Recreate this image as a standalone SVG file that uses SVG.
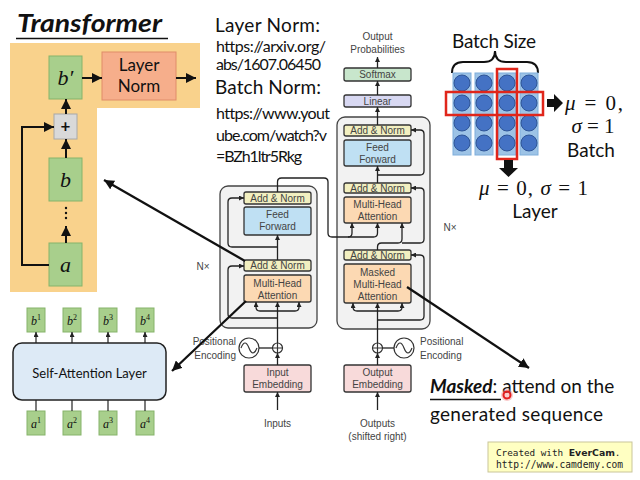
<svg xmlns="http://www.w3.org/2000/svg" width="640" height="480" viewBox="0 0 640 480">
  <defs>
    <style>
      .ttl { font-family: Lato, "Liberation Sans", sans-serif; fill: #111; }
      .math { font-family: "Liberation Serif", "DejaVu Serif", serif; fill: #111; }
      .it { font-style: italic; }
      .arch { font-family: "Liberation Sans", Arial, sans-serif; font-size: 10px; fill: #444; text-anchor: middle; }
      .box { stroke: #333; stroke-width: 1.3; }
      .addnorm { fill: #F2EFC0; }
      .ff { fill: #BFE0F3; }
      .mha { fill: #FCD9B3; }
      .emb { fill: #F8DADA; }
      .wire { fill: none; stroke: #222; stroke-width: 1.3; }
      .green { fill: #A8CF8C; stroke: #86B36A; stroke-width: 1; }
      .thick { fill: none; stroke: #111; stroke-width: 2; }
      .pointer { fill: none; stroke: #111; stroke-width: 2.3; }
      .cell { fill: #4472C4; stroke: #2F5597; stroke-width: 1; }
      .col { fill: #9DC3E6; stroke: #7EAEDB; stroke-width: 1; }
      .sel { fill: none; stroke: #E0261B; stroke-width: 2.5; }
    </style>
    <marker id="ah" viewBox="0 0 10 10" refX="10" refY="5" markerWidth="5" markerHeight="5" markerUnits="userSpaceOnUse" orient="auto">
      <path d="M0,0 L10,5 L0,10 z" fill="#222"/>
    </marker>
    <marker id="big" viewBox="0 0 10 10" refX="10" refY="5" markerWidth="10" markerHeight="10" markerUnits="userSpaceOnUse" orient="auto">
      <path d="M0,0 L10,5 L0,10 z" fill="#111"/>
    </marker>
  </defs>

  <rect width="640" height="480" fill="#fff"/>

  <!-- Title -->
  <g id="title">
    <text x="17" y="32" class="ttl" font-size="25" font-weight="bold" font-style="italic" textLength="145" lengthAdjust="spacingAndGlyphs">Transformer</text>
    <line x1="16" y1="38.5" x2="168" y2="38.5" stroke="#111" stroke-width="1.5"/>
  </g>

  <!-- Residual block with layer norm -->
  <g id="residual-panel">
    <path d="M10,43 H200 V108 H97 V292 H10 Z" fill="#F9D28C"/>
  </g>
  <g id="node-bprime">
    <rect x="49" y="56" width="33" height="43" class="green"/>
    <text x="65.5" y="85" class="math it" font-size="22" text-anchor="middle">b′</text>
  </g>
  <g id="node-layernorm">
    <rect x="102" y="52" width="74" height="48" fill="#F6AE8B" stroke="#E08C69" stroke-width="1"/>
    <text x="139" y="71" class="ttl" font-size="17" text-anchor="middle">Layer</text>
    <text x="139" y="92" class="ttl" font-size="17" text-anchor="middle">Norm</text>
  </g>
  <g id="node-plus">
    <rect x="54" y="114" width="23" height="25" fill="#D9D9D9" stroke="#A8A8A8" stroke-width="1"/>
    <text x="65.5" y="132" class="ttl" font-size="17" font-weight="bold" text-anchor="middle">+</text>
  </g>
  <g id="node-b">
    <rect x="49" y="158" width="33" height="43" class="green"/>
    <text x="65.5" y="187" class="math it" font-size="22" text-anchor="middle">b</text>
  </g>
  <g id="node-dots">
    <circle cx="66" cy="208" r="1.2" fill="#111"/>
    <circle cx="66" cy="213" r="1.2" fill="#111"/>
    <circle cx="66" cy="218" r="1.2" fill="#111"/>
  </g>
  <g id="node-a">
    <rect x="49" y="243" width="33" height="43" class="green"/>
    <text x="65.5" y="272" class="math it" font-size="22" text-anchor="middle">a</text>
  </g>
  <g id="panel-connectors">
    <line x1="82" y1="78" x2="102" y2="78" class="thick" marker-end="url(#big)"/>
    <line x1="176" y1="78" x2="196" y2="78" class="thick" marker-end="url(#big)"/>
    <line x1="66" y1="114" x2="66" y2="99" class="thick" marker-end="url(#big)"/>
    <line x1="66" y1="158" x2="66" y2="139" class="thick" marker-end="url(#big)"/>
    <line x1="66" y1="243" x2="66" y2="226" class="thick" marker-end="url(#big)"/>
    <path d="M49,265 H22 V127 H54" class="thick" marker-end="url(#big)"/>
  </g>

  <!-- Reference texts -->
  <g id="refs">
    <text x="215" y="32" class="ttl" font-size="19" textLength="105">Layer Norm:</text>
    <text x="216" y="52" class="ttl" font-size="16" textLength="110">https://arxiv.org/</text>
    <text x="216" y="70" class="ttl" font-size="16" textLength="105">abs/1607.06450</text>
    <text x="215" y="94" class="ttl" font-size="19" textLength="106">Batch Norm:</text>
    <text x="216" y="119" class="ttl" font-size="16" textLength="114">https://www.yout</text>
    <text x="216" y="141" class="ttl" font-size="16" textLength="111">ube.com/watch?v</text>
    <text x="216" y="162" class="ttl" font-size="16" textLength="86">=BZh1ltr5Rkg</text>
  </g>

  <!-- Self-attention layer -->
  <g id="node-selfattn">
    <rect x="13" y="343" width="153" height="57" rx="9" fill="#DDEAF6" stroke="#222" stroke-width="1.5"/>
    <text x="89.5" y="378" class="ttl" font-size="13" text-anchor="middle">Self-Attention Layer</text>
  </g>
  <g id="node-b1"><rect x="27" y="308" width="18" height="24" class="green"/><text x="36" y="325" class="math" font-size="12" text-anchor="middle"><tspan class="it">b</tspan><tspan font-size="8" dy="-5">1</tspan></text></g>
  <g id="node-b2"><rect x="63" y="308" width="18" height="24" class="green"/><text x="72" y="325" class="math" font-size="12" text-anchor="middle"><tspan class="it">b</tspan><tspan font-size="8" dy="-5">2</tspan></text></g>
  <g id="node-b3"><rect x="99" y="308" width="18" height="24" class="green"/><text x="108" y="325" class="math" font-size="12" text-anchor="middle"><tspan class="it">b</tspan><tspan font-size="8" dy="-5">3</tspan></text></g>
  <g id="node-b4"><rect x="136" y="308" width="18" height="24" class="green"/><text x="145" y="325" class="math" font-size="12" text-anchor="middle"><tspan class="it">b</tspan><tspan font-size="8" dy="-5">4</tspan></text></g>
  <g id="node-a1"><rect x="27" y="411" width="18" height="24" class="green"/><text x="36" y="428" class="math" font-size="12" text-anchor="middle"><tspan class="it">a</tspan><tspan font-size="8" dy="-5">1</tspan></text></g>
  <g id="node-a2"><rect x="63" y="411" width="18" height="24" class="green"/><text x="72" y="428" class="math" font-size="12" text-anchor="middle"><tspan class="it">a</tspan><tspan font-size="8" dy="-5">2</tspan></text></g>
  <g id="node-a3"><rect x="99" y="411" width="18" height="24" class="green"/><text x="108" y="428" class="math" font-size="12" text-anchor="middle"><tspan class="it">a</tspan><tspan font-size="8" dy="-5">3</tspan></text></g>
  <g id="node-a4"><rect x="136" y="411" width="18" height="24" class="green"/><text x="145" y="428" class="math" font-size="12" text-anchor="middle"><tspan class="it">a</tspan><tspan font-size="8" dy="-5">4</tspan></text></g>
  <g id="selfattn-connectors" stroke="#222" stroke-width="1.2">
    <line x1="36" y1="343" x2="36" y2="332" marker-end="url(#ah)"/>
    <line x1="72" y1="343" x2="72" y2="332" marker-end="url(#ah)"/>
    <line x1="108" y1="343" x2="108" y2="332" marker-end="url(#ah)"/>
    <line x1="145" y1="343" x2="145" y2="332" marker-end="url(#ah)"/>
    <line x1="36" y1="400" x2="36" y2="411"/>
    <line x1="72" y1="400" x2="72" y2="411"/>
    <line x1="108" y1="400" x2="108" y2="411"/>
    <line x1="145" y1="400" x2="145" y2="411"/>
  </g>

  <!-- Encoder stack -->
  <g id="encoder">
    <rect x="220" y="186" width="97" height="142" rx="8" fill="#F2F2F2" stroke="#444" stroke-width="1.3"/>
    <text x="203" y="270" class="arch" font-size="9">N×</text>
  </g>
  <g id="enc-addnorm2"><rect x="244" y="192" width="67" height="12" rx="2" class="box addnorm"/><text x="277.5" y="202" class="arch">Add &amp; Norm</text></g>
  <g id="enc-ff"><rect x="244" y="207" width="67" height="28" rx="2" class="box ff"/><text x="277.5" y="218" class="arch">Feed</text><text x="277.5" y="230" class="arch">Forward</text></g>
  <g id="enc-addnorm1"><rect x="244" y="260" width="67" height="11" rx="2" class="box addnorm"/><text x="277.5" y="269" class="arch">Add &amp; Norm</text></g>
  <g id="enc-mha"><rect x="244" y="275" width="67" height="27" rx="2" class="box mha"/><text x="277.5" y="287" class="arch">Multi-Head</text><text x="277.5" y="299" class="arch">Attention</text></g>
  <g id="enc-embedding"><rect x="244" y="365" width="67" height="27" rx="2" class="box emb"/><text x="277.5" y="376" class="arch">Input</text><text x="277.5" y="388" class="arch">Embedding</text></g>
  <g id="enc-posenc">
    <circle cx="249" cy="348" r="10" fill="#fff" stroke="#333" stroke-width="1.2"/>
    <path d="M241,348 q4,-10 8,0 t8,0" fill="none" stroke="#333" stroke-width="1.2"/>
    <circle cx="277.5" cy="348" r="5" fill="#fff" stroke="#333" stroke-width="1.2"/>
    <path d="M272.5,348 H282.5 M277.5,343 V353" stroke="#333" stroke-width="1.2"/>
    <text x="236" y="345" class="arch" style="text-anchor:end">Positional</text>
    <text x="236" y="359" class="arch" style="text-anchor:end">Encoding</text>
    <text x="277.5" y="427" class="arch">Inputs</text>
  </g>

  <!-- Decoder stack -->
  <g id="decoder">
    <rect x="337" y="117" width="93" height="212" rx="8" fill="#F2F2F2" stroke="#444" stroke-width="1.3"/>
    <text x="450" y="231" class="arch" font-size="9">N×</text>
  </g>
  <g id="dec-addnorm3"><rect x="344" y="125" width="67" height="11" rx="2" class="box addnorm"/><text x="377.5" y="134" class="arch">Add &amp; Norm</text></g>
  <g id="dec-ff"><rect x="344" y="140" width="67" height="26" rx="2" class="box ff"/><text x="377.5" y="151" class="arch">Feed</text><text x="377.5" y="163" class="arch">Forward</text></g>
  <g id="dec-addnorm2"><rect x="344" y="183" width="67" height="10" rx="2" class="box addnorm"/><text x="377.5" y="192" class="arch">Add &amp; Norm</text></g>
  <g id="dec-mha"><rect x="344" y="197" width="67" height="26" rx="2" class="box mha"/><text x="377.5" y="208" class="arch">Multi-Head</text><text x="377.5" y="220" class="arch">Attention</text></g>
  <g id="dec-addnorm1"><rect x="344" y="250" width="67" height="10" rx="2" class="box addnorm"/><text x="377.5" y="259" class="arch">Add &amp; Norm</text></g>
  <g id="dec-masked"><rect x="344" y="264" width="67" height="39" rx="2" class="box mha"/><text x="377.5" y="276" class="arch">Masked</text><text x="377.5" y="288" class="arch">Multi-Head</text><text x="377.5" y="300" class="arch">Attention</text></g>
  <g id="dec-linear"><rect x="344" y="95" width="67" height="12" rx="2" class="box" fill="#D8D8F2"/><text x="377.5" y="105" class="arch">Linear</text></g>
  <g id="dec-softmax"><rect x="344" y="68" width="67" height="13" rx="2" class="box" fill="#C8E6CC"/><text x="377.5" y="78" class="arch">Softmax</text></g>
  <g id="dec-output">
    <text x="377.5" y="40" class="arch">Output</text>
    <text x="377.5" y="53" class="arch">Probabilities</text>
  </g>
  <g id="dec-embedding"><rect x="344" y="365" width="67" height="27" rx="2" class="box emb"/><text x="377.5" y="376" class="arch">Output</text><text x="377.5" y="388" class="arch">Embedding</text></g>
  <g id="dec-posenc">
    <circle cx="404" cy="348" r="10" fill="#fff" stroke="#333" stroke-width="1.2"/>
    <path d="M396,348 q4,-10 8,0 t8,0" fill="none" stroke="#333" stroke-width="1.2"/>
    <circle cx="377.5" cy="348" r="5" fill="#fff" stroke="#333" stroke-width="1.2"/>
    <path d="M372.5,348 H382.5 M377.5,343 V353" stroke="#333" stroke-width="1.2"/>
    <text x="420" y="345" class="arch" style="text-anchor:start">Positional</text>
    <text x="420" y="359" class="arch" style="text-anchor:start">Encoding</text>
    <text x="377.5" y="427" class="arch">Outputs</text>
    <text x="377.5" y="440" class="arch">(shifted right)</text>
  </g>

  <!-- Wiring of the encoder/decoder -->
  <g id="connectors">
    <!-- encoder -->
    <line x1="277.5" y1="410" x2="277.5" y2="392" class="wire" marker-end="url(#ah)"/>
    <line x1="277.5" y1="365" x2="277.5" y2="353" class="wire" marker-end="url(#ah)"/>
    <line x1="259" y1="348" x2="272.5" y2="348" class="wire"/>
    <line x1="277.5" y1="343" x2="277.5" y2="302" class="wire" marker-end="url(#ah)"/>
    <path d="M277.5,311 H260 Q256,311 256,307 V302" class="wire" marker-end="url(#ah)"/>
    <path d="M277.5,311 H295 Q299,311 299,307 V302" class="wire" marker-end="url(#ah)"/>
    <path d="M277.5,318 H232 Q228,318 228,314 V270 Q228,266 232,266 H244" class="wire" marker-end="url(#ah)"/>
    <line x1="277.5" y1="260" x2="277.5" y2="235" class="wire" marker-end="url(#ah)"/>
    <path d="M277.5,247 H232 Q228,247 228,243 V202 Q228,198 232,198 H244" class="wire" marker-end="url(#ah)"/>
    <path d="M277.5,192 V182 Q277.5,178 281.5,178 H324 Q328,178 328,182 V233 Q328,237 332,237 H348 Q352,237 352,233 V223" class="wire" marker-end="url(#ah)"/>
    <path d="M348,237 H373.5 Q377.5,237 377.5,233 V223" class="wire" marker-end="url(#ah)"/>
    <!-- decoder -->
    <line x1="377.5" y1="410" x2="377.5" y2="392" class="wire" marker-end="url(#ah)"/>
    <line x1="377.5" y1="365" x2="377.5" y2="353" class="wire" marker-end="url(#ah)"/>
    <line x1="394" y1="348" x2="382.5" y2="348" class="wire"/>
    <line x1="377.5" y1="343" x2="377.5" y2="303" class="wire" marker-end="url(#ah)"/>
    <path d="M377.5,311 H357 Q353,311 353,307 V303" class="wire" marker-end="url(#ah)"/>
    <path d="M377.5,311 H398 Q402,311 402,307 V303" class="wire" marker-end="url(#ah)"/>
    <path d="M377.5,320 H420 Q424,320 424,316 V259 Q424,255 420,255 H411" class="wire" marker-end="url(#ah)"/>
    <path d="M377.5,250 V247 Q377.5,243 381.5,243 H398 Q402,243 402,239 V223" class="wire" marker-end="url(#ah)"/>
    <path d="M402,243 H420 Q424,243 424,239 V192 Q424,188 420,188 H411" class="wire" marker-end="url(#ah)"/>
    <line x1="377.5" y1="183" x2="377.5" y2="166" class="wire" marker-end="url(#ah)"/>
    <path d="M377.5,175 H420 Q424,175 424,171 V134 Q424,130 420,130 H411" class="wire" marker-end="url(#ah)"/>
    <line x1="377.5" y1="125" x2="377.5" y2="107" class="wire" marker-end="url(#ah)"/>
    <line x1="377.5" y1="95" x2="377.5" y2="81" class="wire" marker-end="url(#ah)"/>
    <line x1="377.5" y1="68" x2="377.5" y2="57" class="wire" marker-end="url(#ah)"/>
    <!-- pointers to the explanations -->
    <line x1="245" y1="261" x2="104" y2="180" class="pointer" marker-end="url(#big)"/>
    <line x1="246" y1="301" x2="172" y2="371" class="pointer" marker-end="url(#big)"/>
    <line x1="407" y1="287" x2="529" y2="368" class="pointer" marker-end="url(#big)"/>
  </g>

  <!-- Batch vs layer normalisation -->
  <g id="norm-grid">
    <text x="494" y="48" class="ttl" font-size="19" text-anchor="middle" textLength="84">Batch Size</text>
    <path d="M452,73 Q452,62 463,62 H484 Q495,62 495,51 Q495,62 506,62 H527 Q538,62 538,73" fill="none" stroke="#111" stroke-width="2"/>
    <rect x="453" y="73" width="18" height="82" class="col"/>
    <rect x="475" y="73" width="18" height="82" class="col"/>
    <rect x="498" y="73" width="18" height="82" class="col"/>
    <rect x="520" y="73" width="18" height="82" class="col"/>
    <g>
      <circle cx="462" cy="83" r="8" class="cell"/><circle cx="484" cy="83" r="8" class="cell"/><circle cx="507" cy="83" r="8" class="cell"/><circle cx="529" cy="83" r="8" class="cell"/>
      <circle cx="462" cy="103" r="8" class="cell"/><circle cx="484" cy="103" r="8" class="cell"/><circle cx="507" cy="103" r="8" class="cell"/><circle cx="529" cy="103" r="8" class="cell"/>
      <circle cx="462" cy="123" r="8" class="cell"/><circle cx="484" cy="123" r="8" class="cell"/><circle cx="507" cy="123" r="8" class="cell"/><circle cx="529" cy="123" r="8" class="cell"/>
      <circle cx="462" cy="143" r="8" class="cell"/><circle cx="484" cy="143" r="8" class="cell"/><circle cx="507" cy="143" r="8" class="cell"/><circle cx="529" cy="143" r="8" class="cell"/>
    </g>
    <rect x="446" y="92" width="97" height="23" class="sel"/>
    <rect x="497" y="69" width="20" height="90" class="sel"/>
    <path d="M547,99 H554 V94 L563,103 L554,112 V107 H547 Z" fill="#111"/>
    <path d="M504,160 H513 V168 H518 L508.5,177 L499,168 H504 Z" fill="#111"/>
    <text x="565" y="110" class="math" font-size="21" textLength="58"><tspan class="it">μ</tspan> = 0,</text>
    <text x="593" y="133" class="math" font-size="21" text-anchor="middle"><tspan class="it">σ</tspan> = 1</text>
    <text x="591" y="157" class="ttl" font-size="19" text-anchor="middle">Batch</text>
    <text x="479" y="195" class="math" font-size="21" textLength="109"><tspan class="it">μ</tspan> = 0, <tspan class="it">σ</tspan> = 1</text>
    <text x="535" y="218" class="ttl" font-size="19" text-anchor="middle">Layer</text>
  </g>

  <!-- Masked attention note -->
  <g id="masked-note">
    <text x="430" y="393" class="ttl" font-size="19"><tspan font-weight="bold" font-style="italic">Masked</tspan><tspan>: attend on the</tspan></text>
    <line x1="430" y1="399.5" x2="501" y2="399.5" stroke="#111" stroke-width="1.3"/>
    <text x="430" y="421" class="ttl" font-size="19" textLength="173">generated sequence</text>
    <circle cx="507" cy="395" r="6" fill="#F58C8C" opacity="0.45"/>
    <circle cx="507" cy="395" r="3.5" fill="none" stroke="#E41E1E" stroke-width="2"/>
  </g>

  <!-- Recorder badge -->
  <g id="badge">
    <rect x="488" y="442" width="144" height="30" fill="#FFFFC2" stroke="#C9C59A" stroke-width="1"/>
    <text x="496" y="456" font-family="'DejaVu Sans Mono', 'Liberation Mono', monospace" font-size="9.3" fill="#222">Created with <tspan font-weight="bold" font-family="'DejaVu Sans', sans-serif">EverCam</tspan>.</text>
    <text x="496" y="468" font-family="'DejaVu Sans Mono', 'Liberation Mono', monospace" font-size="9.6" fill="#222">http://www.camdemy.com</text>
  </g>
</svg>
